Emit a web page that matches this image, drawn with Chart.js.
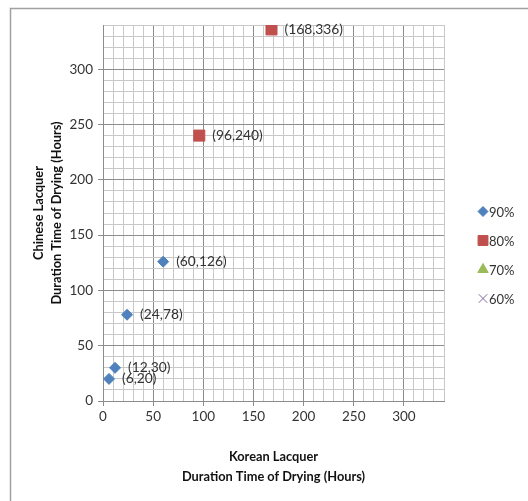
<!DOCTYPE html>
<html>
<head>
<meta charset="utf-8">
<script src="https://cdn.jsdelivr.net/npm/chart.js@4"></script>
<style>
  body { margin: 0; background: #fff; }
  canvas { display: block; }
</style>
</head>
<body>
<canvas id="myChart" width="528" height="501"></canvas>
<script>
// values
const seriesNames = ['90%', '80%', '70%', '60%']
const x90 = [6, 12, 24, 60]
const y90 = [20, 30, 78, 126]
const x80 = [96, 168]
const y80 = [240, 336]
const x70 = []
const y70 = []
const x60 = []
const y60 = []
const xTickLabels = [0, 50, 100, 150, 200, 250, 300]
const yTickLabels = [0, 50, 100, 150, 200, 250, 300]
const axisMax = 340

const toPoints = (xs, ys) => xs.map((x, i) => ({ x: x, y: ys[i] }))

const font = 'Lato, "Liberation Sans", sans-serif'
const majorColor = '#8c8c8c'
const minorColor = '#c8c8c8'

const isMajor = v => v % 50 === 0
const gridColor = ctx => isMajor(ctx.tick.value) ? majorColor : minorColor
const tickMarkColor = ctx => isMajor(ctx.tick.value) ? majorColor : 'rgba(0,0,0,0)'

// gray frame of the cropped chart
const framePlugin = {
  id: 'frame',
  beforeDraw(chart) {
    const c = chart.ctx
    c.save()
    c.fillStyle = '#fff'
    c.fillRect(0, 0, chart.width, chart.height)
    c.strokeStyle = '#a0a0a0'
    c.lineWidth = 1.5
    c.beginPath()
    c.moveTo(10.5, chart.height)
    c.lineTo(10.5, 8.5)
    c.lineTo(chart.width, 8.5)
    c.stroke()
    c.restore()
  }
}

// "(x,y)" labels right of each point
const pointLabels = {
  id: 'pointLabels',
  afterDatasetsDraw(chart) {
    const c = chart.ctx
    c.save()
    c.font = '13.8px ' + font
    c.fillStyle = '#333'
    c.textAlign = 'left'
    c.textBaseline = 'middle'
    chart.data.datasets.forEach((ds, i) => {
      chart.getDatasetMeta(i).data.forEach((el, j) => {
        const p = ds.data[j]
        c.fillText('(' + p.x + ',' + p.y + ')', el.x + 13, el.y)
      })
    })
    c.restore()
  }
}

// legend at the right
const sideLegend = {
  id: 'sideLegend',
  afterDraw(chart) {
    const c = chart.ctx
    const area = chart.chartArea
    const gap = 29
    const n = chart.data.datasets.length
    const startY = (area.top + area.bottom) / 2 + 42 - gap * (n - 1) / 2
    c.save()
    c.font = '13px ' + font
    c.textBaseline = 'middle'
    c.textAlign = 'left'
    chart.data.datasets.forEach((ds, i) => {
      const y = startY + i * gap
      const x = area.right + 39
      c.fillStyle = ds.backgroundColor
      c.strokeStyle = ds.borderColor
      Chart.helpers.drawPoint(c, {
        pointStyle: ds.pointStyle,
        radius: ds.legendRadius,
        rotation: 0,
        borderWidth: ds.borderWidth
      }, x, y)
      c.fillStyle = '#333'
      c.fillText(ds.label, x + 6, y + 1)
    })
    c.restore()
  }
}

const data = {
  datasets: [
    {
      label: seriesNames[0],
      data: toPoints(x90, y90),
      pointStyle: 'rectRot',
      pointRadius: 5.5,
      legendRadius: 5,
      backgroundColor: '#4f81bd',
      borderColor: '#4f81bd',
      borderWidth: 1
    },
    {
      label: seriesNames[1],
      data: toPoints(x80, y80),
      pointStyle: 'rect',
      pointRadius: 7.8,
      legendRadius: 7,
      backgroundColor: '#c0504d',
      borderColor: '#c0504d',
      borderWidth: 1
    },
    {
      label: seriesNames[2],
      data: toPoints(x70, y70),
      pointStyle: 'triangle',
      pointRadius: 6,
      legendRadius: 6,
      backgroundColor: '#9bbb59',
      borderColor: '#9bbb59',
      borderWidth: 1
    },
    {
      label: seriesNames[3],
      data: toPoints(x60, y60),
      pointStyle: 'crossRot',
      pointRadius: 6,
      legendRadius: 6,
      backgroundColor: '#8064a2',
      borderColor: '#8064a2',
      borderWidth: 1
    }
  ]
}

const config = {
  type: 'scatter',
  data: data,
  options: {
    responsive: false,
    animation: false,
    layout: { padding: { top: 25, right: 84, left: 0, bottom: 0 } },
    plugins: {
      legend: { display: false },
      tooltip: { enabled: false }
    },
    scales: {
      x: {
        type: 'linear',
        min: 0,
        max: axisMax,
        afterFit: s => { s.height = 100 },
        border: { color: majorColor, width: 1 },
        grid: { color: gridColor, tickColor: tickMarkColor, tickLength: 5, lineWidth: 1 },
        ticks: {
          stepSize: 10,
          autoSkip: false,
          maxRotation: 0,
          padding: 3,
          color: '#333',
          font: { family: font, size: 13.5 },
          callback: v => xTickLabels.includes(v) ? String(v) : ''
        },
        title: {
          display: true,
          text: ['Korean Lacquer', 'Duration Time of Drying (Hours)'],
          color: '#111',
          font: { family: font, size: 12.8, weight: 'bold', lineHeight: 20 / 12.8 },
          padding: { top: 0, bottom: 14 }
        }
      },
      y: {
        type: 'linear',
        min: 0,
        max: axisMax,
        afterFit: s => { s.width = 103 },
        border: { color: majorColor, width: 1 },
        grid: { color: gridColor, tickColor: tickMarkColor, tickLength: 5, lineWidth: 1 },
        ticks: {
          stepSize: 10,
          autoSkip: false,
          padding: 5,
          color: '#333',
          font: { family: font, size: 13.5 },
          callback: v => yTickLabels.includes(v) ? String(v) : ''
        },
        title: {
          display: true,
          text: ['Chinese Lacquer', 'Duration Time of Drying (Hours)'],
          color: '#111',
          font: { family: font, size: 12.8, weight: 'bold', lineHeight: 18 / 12.8 },
          padding: { top: 30, bottom: 0 }
        }
      }
    }
  },
  plugins: [framePlugin, pointLabels, sideLegend]
}

const myChart = new Chart(document.getElementById('myChart'), config)
</script>
</body>
</html>
